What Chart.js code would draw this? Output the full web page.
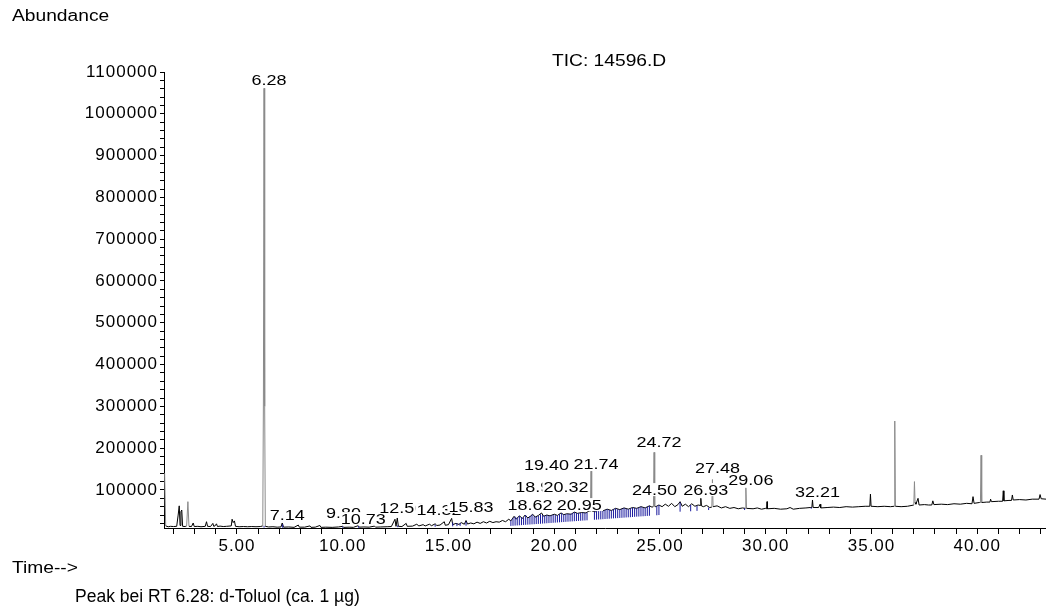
<!DOCTYPE html>
<html>
<head>
<meta charset="utf-8">
<title>TIC: 14596.D</title>
<script src="https://cdn.jsdelivr.net/npm/chart.js@4.4.1/dist/chart.umd.min.js"></script>
<style>
    body { margin: 0; background: #fff; }
    #wrap { position: relative; width: 1046px; height: 614px; }
    .txt { position: absolute; font-family: "Liberation Sans", Arial, sans-serif; color: #000; white-space: nowrap; line-height: 1; }
    .wide { transform: scaleX(1.2); transform-origin: left top; }
</style>
</head>
<body>
<div id="wrap">
    <canvas id="ticChart"></canvas>
    <div class="txt wide" style="left:12px; top:8px; font-size:16px;">Abundance</div>
    <div class="txt wide" style="left:552px; top:53px; font-size:16px;">TIC: 14596.D</div>
    <div class="txt wide" style="left:12px; top:560px; font-size:16px;">Time--&gt;</div>
    <div class="txt" style="left:75px; top:588px; font-size:17.5px;">Peak bei RT 6.28: d-Toluol (ca. 1 µg)</div>
</div>
<script>
// retention time (min) and abundance of the TIC trace
const retentionTimes = [
    1.58, 1.63, 1.75, 1.85, 2.0, 2.15, 2.22, 2.27, 2.31, 2.35, 2.39, 2.43, 2.55, 2.62, 2.68, 2.73, 2.85, 2.93, 2.98,
    3.15, 3.3, 3.5, 3.56, 3.61, 3.75, 3.86, 3.9, 3.96, 4.03, 4.08, 4.2, 4.35, 4.5, 4.73, 4.77, 4.82, 4.88, 4.93,
    5.1, 5.3, 5.5, 5.7, 5.9, 6.1, 6.22, 6.25, 6.28, 6.31, 6.34, 6.5, 6.7, 6.9, 7.08, 7.14, 7.2, 7.45, 7.7, 7.9, 7.95,
    8.2, 8.45, 8.5, 8.7, 8.92, 8.97, 9.2, 9.5, 9.8, 10.0, 10.05, 10.3, 10.5, 10.73, 10.78, 11.0, 11.25, 11.5, 11.55,
    11.8, 12.1, 12.3, 12.47, 12.52, 12.58, 12.63, 12.8, 13.0, 13.05, 13.3, 13.5, 13.6, 13.8, 13.9, 14.1, 14.2, 14.37,
    14.45, 14.6, 14.8, 14.85, 15.0, 15.15, 15.2, 15.35, 15.5, 15.6, 15.75, 15.83, 15.9, 16.05, 16.2, 16.35, 16.5,
    16.65, 16.8, 16.95, 17.1, 17.25, 17.4, 17.55, 17.7, 17.85, 17.95, 18.1, 18.2, 18.35, 18.5, 18.62, 18.75, 18.9,
    18.98, 19.1, 19.25, 19.4, 19.5, 19.65, 19.8, 20.0, 20.15, 20.32, 20.45, 20.6, 20.8, 20.95, 21.1, 21.3,
    21.5, 21.65, 21.71, 21.74, 21.77, 21.95, 22.1, 22.3, 22.5, 22.7, 22.9, 23.1, 23.3, 23.5, 23.7, 23.9, 24.1, 24.3,
    24.5, 24.62, 24.69, 24.72, 24.75, 24.8, 24.95,
    25.1, 25.25, 25.4, 25.55, 25.7, 25.85, 25.95, 26.05, 26.2, 26.35, 26.5, 26.65, 26.8, 26.9, 26.93, 26.96, 27.05,
    27.2, 27.35, 27.45, 27.48, 27.51, 27.7, 27.9, 28.1, 28.3, 28.5, 28.7, 28.9, 29.03, 29.06, 29.09, 29.4, 29.6, 29.8,
    30.0, 30.04, 30.06, 30.08, 30.4, 30.7, 31.0, 31.15, 31.3, 31.6, 31.9, 32.1, 32.18, 32.21, 32.24, 32.5, 32.57, 32.6,
    32.9, 33.2, 33.5, 33.8, 34.1, 34.4, 34.7, 34.92, 34.95, 34.98, 35.3, 35.6, 35.9, 36.07, 36.1, 36.13, 36.4, 36.7,
    37.0, 37.03, 37.06, 37.1, 37.2, 37.25, 37.5, 37.7, 37.85, 37.9, 37.95, 38.3, 38.6, 38.9, 39.2, 39.5, 39.75, 39.8,
    39.85, 40.1, 40.15, 40.18, 40.21, 40.45, 40.6, 40.63, 40.67, 41.0, 41.2, 41.23, 41.26, 41.5, 41.62, 41.66, 41.7,
    42.0, 42.3, 42.6, 42.92, 42.97, 43.02, 43.25
];
const abundances = [
    140000, 14000, 12000, 13000, 12500, 13000, 40000, 62000, 15000, 48000, 52000, 13000, 12500, 14000, 72000, 13000, 12500, 21000, 12500,
    13000, 12000, 13000, 24000, 13000, 12500, 20000, 13000, 14000, 19000, 12500, 13500, 12500, 13000, 14000, 30000, 22000, 26000, 13000,
    12000, 12500, 12000, 12500, 12000, 12500, 14000, 320000, 1061000, 300000, 13000, 11500, 12000, 11000, 11500, 21000, 11000, 11500, 10500, 16000, 11000,
    11000, 14000, 10500, 11000, 15000, 10500, 11000, 10500, 11500, 13000, 10500, 11000, 10500, 14500, 11000, 11500, 11000, 13500, 11000,
    11500, 12000, 12500, 30000, 13000, 33000, 13000, 12500, 20000, 13000, 13500, 18000, 14000, 17000, 14000, 18000, 14500, 19000,
    15000, 16000, 24000, 15500, 17000, 32000, 17000, 20000, 17500, 22000, 18000, 27000, 18500, 21000, 19000, 23000, 20000,
    24000, 21000, 25000, 22000, 24000, 23000, 27000, 24000, 30000, 26000, 37000, 30000, 38000, 32000, 40000, 33000, 38000,
    42000, 35000, 39000, 45000, 37000, 40000, 38000, 42000, 39000, 45000, 41000, 43000, 42000, 47000, 44000, 46000,
    45000, 50000, 49000, 145000, 50000, 48000, 52000, 50000, 54000, 51000, 56000, 53000, 57000, 54000, 58000, 56000, 60000, 57000,
    62000, 59000, 60000, 190000, 61000, 60000, 64000,
    60000, 66000, 61000, 68000, 60000, 65000, 72000, 61000, 66000, 60000, 67000, 61000, 64000, 63000, 80000, 62000, 60000,
    63000, 58000, 59000, 125000, 60000, 62000, 57000, 60000, 56000, 58000, 55000, 57000, 56000, 105000, 56000, 55000, 57000, 54000,
    56000, 55000, 72000, 55000, 56000, 54000, 55000, 58000, 54000, 56000, 57000, 58000, 58000, 76000, 58000, 58000, 66000, 57000,
    58000, 59000, 58000, 60000, 59000, 60000, 61000, 61000, 90000, 61000, 60000, 61000, 60000, 61000, 265000, 61000, 60000, 61000,
    64000, 120000, 70000, 66000, 80000, 64000, 65000, 64000, 64000, 74000, 65000, 66000, 65000, 67000, 66000, 68000, 67000, 84000,
    68000, 70000, 70000, 183000, 70000, 71000, 71000, 78000, 72000, 73000, 73000, 98000, 74000, 75000, 75000, 88000, 76000,
    77000, 76000, 78000, 78000, 89000, 79000, 78000
];

// blue integration marks: time, lower end, upper end
const integrationTimes = [
    6.28, 7.16, 10.0, 10.75, 12.6, 14.37, 15.2, 15.4, 15.55, 15.83,
    17.95, 18.05, 18.15, 18.25, 18.35, 18.45, 18.55, 18.65, 18.75, 18.85, 18.95, 19.05, 19.15, 19.25, 19.35, 19.45,
    19.55, 19.65, 19.75, 19.85, 19.95, 20.05, 20.15, 20.25, 20.35, 20.45, 20.55, 20.65, 20.75, 20.85, 20.95, 21.05,
    21.15, 21.25, 21.35, 21.45, 21.55, 21.9, 22.0, 22.1, 22.2, 22.3, 22.4, 22.5, 22.6, 22.7, 22.8, 22.9, 23.0,
    23.1, 23.2, 23.3, 23.4, 23.5, 23.6, 23.7, 23.8, 23.9, 24.0, 24.1, 24.2, 24.3, 24.4, 24.5, 24.85, 24.95,
    25.95, 26.45, 26.75, 27.3, 29.0, 32.15
];
const integrationLow = [
    10000, 9500, 9500, 9500, 11000, 12000, 13000, 13500, 14000, 14500,
    14000, 14400, 14800, 15100, 15500, 15900, 16300, 16600, 17000, 17400, 17800, 18100, 18500, 18800, 19200, 19600,
    20000, 20400, 20800, 21100, 21500, 21800, 22200, 22600, 23000, 23300, 23700, 24100, 24500, 24800, 25200, 25600,
    26000, 26300, 26700, 27000, 27400, 28700, 29000, 29400, 29700, 30100, 30500, 30900, 31200, 31600, 32000, 32400, 32700,
    33100, 33400, 33800, 34200, 34600, 34900, 35300, 35700, 36100, 36400, 36800, 37100, 37500, 37900, 38300, 39500, 40000,
    48000, 49000, 50000, 52000, 52000, 55000
];
const integrationHigh = [
    14000, 18000, 12500, 13500, 15000, 17000, 22000, 20000, 21000, 24000,
    27000, 33000, 36000, 34000, 38000, 35000, 34000, 40000, 33000, 37000, 41000, 37000, 36000, 38000, 42000, 40000,
    38000, 40000, 38500, 39000, 41000, 40000, 39000, 42000, 44000, 41000, 42000, 43000, 42500, 45000, 47000, 45000,
    44500, 45000, 46000, 45500, 46000, 48500, 50000, 52000, 51000, 50000, 52000, 54000, 52000, 51000, 54000, 56000, 54000,
    53000, 55000, 57000, 55000, 54000, 56000, 58000, 57000, 56000, 58000, 60000, 58000, 57000, 60000, 62000, 61000, 64000,
    70000, 64000, 62000, 58000, 56000, 58000
];

// peak annotations: retention time, text, abundance level the label sits on
const peakTimes = [6.28, 7.14, 9.80, 10.73, 12.56, 14.32, 15.83, 18.62, 18.98, 19.40, 20.32, 20.95, 21.74, 24.50, 24.72, 26.93, 27.48, 29.06, 32.21];
const peakLabels = ["6.28", "7.14", "9.80", "10.73", "12.56", "14.32", "15.83", "18.62", "18.98", "19.40", "20.32", "20.95", "21.74", "24.50", "24.72", "26.93", "27.48", "29.06", "32.21"];
const labelLevels = [1061000, 20800, 25600, 11200, 37600, 32800, 40000, 44700, 87900, 140400, 87900, 44700, 142800, 80600, 195000, 80600, 133000, 104500, 76000];

// axis ticks: minor step, labelled step
const xRange = [1.55, 43.25];
const yRange = [9000, 1100000];
const xTickStep = 1, xLabelStep = 5;
const yTickStep = 20000, yLabelStep = 100000;

const FONT = '"Liberation Sans", Arial, sans-serif';

// the printout's axis digits run a bit wider than Arial
const letterSpacingPlugin = {
    id: "wideTicks",
    beforeDraw(chart) {
        chart.ctx.letterSpacing = "1px";
    }
};

const peakLabelPlugin = {
    id: "peakLabels",
    afterDatasetsDraw(chart) {
        const ctx = chart.ctx;
        const xs = chart.scales.x;
        const ys = chart.scales.y;
        ctx.save();
        ctx.letterSpacing = "0px";
        ctx.font = "15px " + FONT;
        ctx.textAlign = "center";
        ctx.textBaseline = "alphabetic";
        peakTimes.forEach((t, i) => {
            const px = xs.getPixelForValue(t) + 5;
            const py = ys.getPixelForValue(labelLevels[i]) - 3;
            const w = ctx.measureText(peakLabels[i]).width;
            ctx.save();
            ctx.translate(px, py);
            ctx.scale(1.2, 1);
            ctx.fillStyle = "#fff";
            ctx.fillRect(-w / 2 - 1, -12, w + 2, 13); // white box hides what lies under the label
            ctx.fillStyle = "#000";
            ctx.fillText(peakLabels[i], 0, 0);
            ctx.restore();
        });
        ctx.restore();
    }
};

function stepTicks(min, max, step) {
    const ticks = [];
    for (let k = Math.ceil(min / step); k * step <= max + 1e-9; k++) {
        ticks.push({ value: Math.round(k * step * 1000) / 1000 });
    }
    return ticks;
}

const trace = retentionTimes.map((t, i) => ({ x: t, y: abundances[i] }));
const marks = [];
integrationTimes.forEach((t, i) => {
    marks.push({ x: t, y: integrationLow[i] }, { x: t, y: integrationHigh[i] }, { x: t, y: null });
});

new Chart(document.getElementById("ticChart"), {
    type: "line",
    data: {
        datasets: [
            {
                data: marks,
                borderColor: "#1a1a9e",
                borderWidth: 1,
                pointRadius: 0,
                spanGaps: false,
                order: 1
            },
            {
                data: trace,
                borderColor: "#000",
                borderWidth: 1,
                pointRadius: 0,
                tension: 0,
                order: 2,
                segment: {
                    // steep peak flanks come out grey in the print
                    borderColor: c => (Math.abs(c.p1.y - c.p0.y) > 20 ? "#8a8a8a" : "#000")
                }
            }
        ]
    },
    options: {
        responsive: true,
        maintainAspectRatio: false,
        animation: false,
        layout: { padding: { top: 72, right: 0, bottom: 0, left: 0 } },
        plugins: {
            legend: { display: false },
            tooltip: { enabled: false }
        },
        scales: {
            x: {
                type: "linear",
                min: xRange[0],
                max: xRange[1],
                border: { color: "#000", width: 1 },
                grid: { drawOnChartArea: false, tickLength: 6, color: "#000" },
                afterBuildTicks: s => { s.ticks = stepTicks(xRange[0], xRange[1], xTickStep); },
                ticks: {
                    autoSkip: false,
                    maxRotation: 0,
                    padding: 2,
                    color: "#000",
                    font: { family: FONT, size: 17 },
                    callback: v => (Math.abs(v / xLabelStep - Math.round(v / xLabelStep)) < 1e-6 ? v.toFixed(2) : "")
                },
                afterFit: s => { s.height = 86; }
            },
            y: {
                type: "linear",
                min: yRange[0],
                max: yRange[1],
                border: { color: "#000", width: 1 },
                grid: { drawOnChartArea: false, tickLength: 4, color: "#000" },
                afterBuildTicks: s => { s.ticks = stepTicks(yRange[0], yRange[1], yTickStep); },
                ticks: {
                    autoSkip: false,
                    padding: 2,
                    color: "#000",
                    font: { family: FONT, size: 17 },
                    callback: v => (Math.round(v) % yLabelStep === 0 ? String(Math.round(v)) : "")
                },
                afterFit: s => { s.width = 164; }
            }
        }
    },
    plugins: [letterSpacingPlugin, peakLabelPlugin]
});
</script>
</body>
</html>
